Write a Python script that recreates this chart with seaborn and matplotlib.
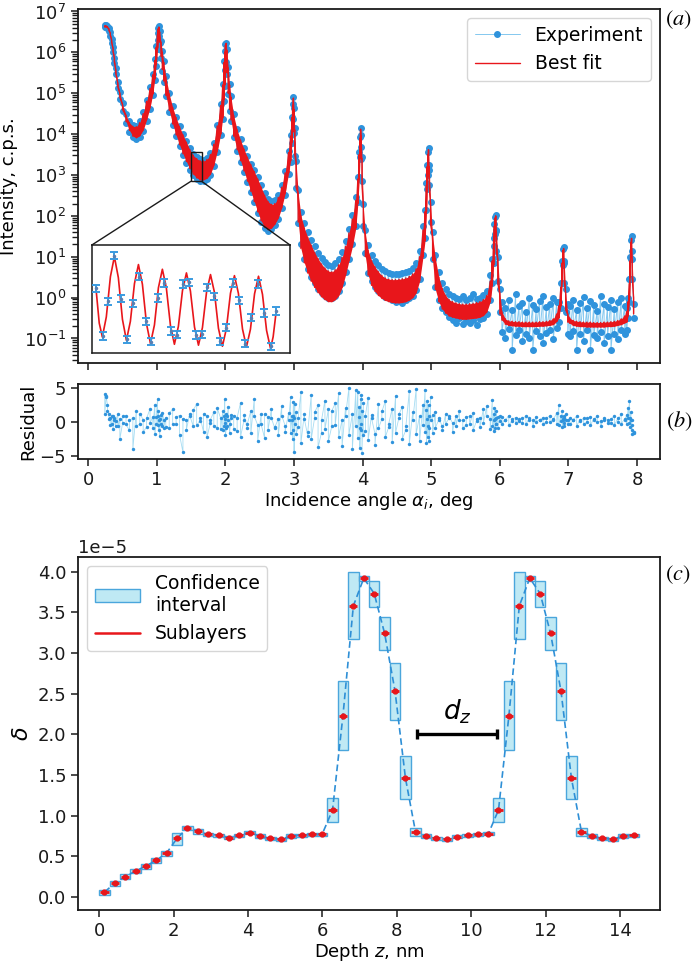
import numpy as np
import matplotlib
matplotlib.use("Agg")
import matplotlib.pyplot as plt
import seaborn as sns
from matplotlib.patches import Rectangle, ConnectionPatch, Patch
from matplotlib.lines import Line2D
from matplotlib.ticker import NullLocator

# ---------------- Panel (a): reflectivity (log10 intensity envelopes) ----------------
angle = [
    0.24, 0.26, 0.28, 0.30, 0.32, 0.34, 0.36, 0.38, 0.40, 0.43, 0.46, 0.50, 0.55, 0.60, 0.65, 0.70, 0.75, 0.80, 0.85, 0.90, 0.94,
    0.97, 0.99, 1.01, 1.02, 1.03, 1.04, 1.06, 1.08, 1.10,
    1.13, 1.18, 1.23, 1.28, 1.33, 1.38, 1.43, 1.48, 1.53, 1.58, 1.63, 1.68, 1.73, 1.78, 1.83, 1.88, 1.93,
    1.96, 1.98, 1.99, 2.00, 2.01, 2.02, 2.04, 2.06, 2.08,
    2.12, 2.17, 2.22, 2.27, 2.32, 2.37, 2.42, 2.47, 2.52, 2.57, 2.62, 2.67, 2.72, 2.77, 2.82, 2.87, 2.92,
    2.95, 2.97, 2.98, 2.99, 3.00, 3.01, 3.03, 3.06,
    3.10, 3.15, 3.20, 3.25, 3.30, 3.35, 3.40, 3.45, 3.50, 3.55, 3.60, 3.65, 3.70, 3.75, 3.80, 3.85, 3.90,
    3.93, 3.95, 3.96, 3.97, 3.98, 3.99, 4.01, 4.04,
    4.08, 4.13, 4.18, 4.23, 4.28, 4.33, 4.38, 4.43, 4.48, 4.53, 4.58, 4.63, 4.68, 4.73, 4.78, 4.83, 4.88,
    4.91, 4.93, 4.94, 4.95, 4.96, 4.97, 4.99, 5.02,
    5.06, 5.11, 5.16, 5.21, 5.26, 5.31, 5.36, 5.41, 5.46, 5.51, 5.56, 5.61, 5.66, 5.71, 5.76, 5.81, 5.86,
    5.89, 5.91, 5.92, 5.93, 5.94, 5.95, 5.97, 6.00,
    6.03, 6.08, 6.13, 6.18, 6.23, 6.28, 6.33, 6.38, 6.43, 6.48, 6.53, 6.58, 6.63, 6.68, 6.73, 6.78, 6.83,
    6.86, 6.89, 6.91, 6.92, 6.93, 6.94, 6.96, 6.99,
    7.02, 7.07, 7.12, 7.17, 7.22, 7.27, 7.32, 7.37, 7.42, 7.47, 7.52, 7.57, 7.62, 7.67, 7.72, 7.77, 7.82,
    7.85, 7.87, 7.89, 7.90, 7.91, 7.92, 7.93, 7.95,
]
fit_hi = [
    6.65, 6.65, 6.63, 6.58, 6.47, 6.30, 6.10, 5.85, 5.58, 5.25, 5.00, 4.72, 4.46, 4.28, 4.19, 4.18, 4.28, 4.50, 4.80, 5.12, 5.45,
    5.80, 6.12, 6.45, 6.58, 6.62, 6.50, 6.25, 6.00, 5.75,
    5.40, 4.98, 4.65, 4.40, 4.18, 3.98, 3.80, 3.62, 3.48, 3.40, 3.35, 3.34, 3.38, 3.50, 3.75, 4.20, 4.70,
    5.20, 5.75, 6.00, 6.18, 6.22, 6.05, 5.62, 5.20, 4.90,
    4.45, 4.10, 3.85, 3.63, 3.43, 3.25, 3.08, 2.90, 2.70, 2.50, 2.35, 2.28, 2.30, 2.45, 2.70, 3.05, 3.55,
    3.95, 4.40, 4.70, 4.88, 4.60, 4.10, 3.30, 2.55,
    2.00, 1.70, 1.47, 1.28, 1.10, 0.95, 0.82, 0.72, 0.65, 0.63, 0.68, 0.80, 0.98, 1.25, 1.58, 1.92, 2.38,
    2.90, 3.50, 3.90, 4.12, 3.95, 3.40, 2.20, 1.55,
    1.15, 0.90, 0.75, 0.63, 0.54, 0.48, 0.45, 0.44, 0.44, 0.45, 0.46, 0.48, 0.52, 0.58, 0.70, 1.00, 1.65,
    2.10, 2.75, 3.20, 3.50, 3.62, 3.20, 2.30, 1.50,
    0.95, 0.50, 0.22, 0.05, -0.05, -0.10, -0.13, -0.15, -0.16, -0.16, -0.15, -0.14, -0.12, -0.10, -0.05, 0.05, 0.40,
    0.90, 1.40, 1.75, 1.95, 2.00, 1.60, 0.95, 0.10,
    -0.35, -0.52, -0.57, -0.58, -0.59, -0.59, -0.60, -0.60, -0.60, -0.60, -0.60, -0.59, -0.59, -0.58, -0.56, -0.52, -0.40,
    -0.20, 0.25, 0.85, 1.15, 1.20, 0.80, 0.10, -0.40,
    -0.50, -0.56, -0.58, -0.59, -0.60, -0.60, -0.60, -0.61, -0.61, -0.61, -0.60, -0.60, -0.59, -0.58, -0.56, -0.52, -0.45,
    -0.35, -0.10, 0.35, 0.90, 1.35, 1.45, 0.90, 0.00,
]
fit_lo = [
    6.62, 6.62, 6.60, 6.54, 6.42, 6.24, 6.03, 5.77, 5.49, 5.16, 4.90, 4.60, 4.31, 4.09, 3.95, 3.91, 3.96, 4.10, 4.35, 4.65, 4.98,
    5.35, 5.70, 6.10, 6.32, 6.42, 6.25, 5.90, 5.58, 5.30,
    4.95, 4.58, 4.25, 3.98, 3.74, 3.52, 3.33, 3.16, 3.02, 2.93, 2.88, 2.88, 2.92, 3.02, 3.24, 3.58, 4.00,
    4.40, 4.85, 5.20, 5.60, 5.80, 5.50, 5.00, 4.60, 4.35,
    3.95, 3.62, 3.35, 3.10, 2.85, 2.60, 2.35, 2.10, 1.88, 1.72, 1.66, 1.70, 1.80, 1.95, 2.20, 2.55, 3.05,
    3.35, 3.80, 4.10, 4.40, 4.05, 3.50, 2.70, 1.85,
    1.20, 0.85, 0.60, 0.40, 0.25, 0.12, 0.02, -0.05, -0.10, -0.10, -0.05, 0.05, 0.25, 0.55, 0.90, 1.25, 1.70,
    2.30, 2.90, 3.40, 3.70, 3.40, 2.80, 1.70, 1.00,
    0.55, 0.30, 0.15, 0.05, -0.02, -0.07, -0.10, -0.12, -0.13, -0.13, -0.12, -0.10, -0.06, 0.00, 0.12, 0.40, 1.00,
    1.40, 2.10, 2.60, 2.95, 3.10, 2.70, 1.80, 0.90,
    0.20, -0.10, -0.28, -0.38, -0.45, -0.48, -0.50, -0.52, -0.53, -0.53, -0.52, -0.51, -0.50, -0.48, -0.44, -0.35, -0.10,
    0.30, 0.80, 1.20, 1.50, 1.60, 1.10, 0.35, -0.40,
    -0.55, -0.65, -0.68, -0.69, -0.70, -0.70, -0.71, -0.71, -0.71, -0.71, -0.71, -0.70, -0.70, -0.69, -0.68, -0.66, -0.58,
    -0.50, -0.20, 0.40, 0.85, 0.95, 0.40, -0.30, -0.60,
    -0.63, -0.68, -0.70, -0.71, -0.71, -0.72, -0.72, -0.72, -0.72, -0.72, -0.72, -0.71, -0.71, -0.70, -0.68, -0.66, -0.62,
    -0.60, -0.45, -0.05, 0.50, 1.00, 1.20, 0.50, -0.40,
]
exp_hi = [
    6.66, 6.66, 6.64, 6.60, 6.49, 6.32, 6.12, 5.87, 5.61, 5.28, 5.03, 4.75, 4.49, 4.31, 4.22, 4.21, 4.31, 4.53, 4.83, 5.15, 5.48,
    5.83, 6.15, 6.47, 6.60, 6.64, 6.52, 6.28, 6.03, 5.78,
    5.43, 5.01, 4.68, 4.43, 4.21, 4.01, 3.83, 3.65, 3.51, 3.43, 3.38, 3.37, 3.41, 3.53, 3.78, 4.23, 4.73,
    5.23, 5.78, 6.03, 6.20, 6.24, 6.08, 5.65, 5.23, 4.93,
    4.48, 4.13, 3.88, 3.66, 3.46, 3.28, 3.11, 2.94, 2.75, 2.56, 2.42, 2.36, 2.38, 2.52, 2.75, 3.09, 3.58,
    3.98, 4.43, 4.73, 4.90, 4.63, 4.14, 3.35, 2.62,
    2.10, 1.82, 1.60, 1.42, 1.25, 1.10, 0.98, 0.88, 0.80, 0.78, 0.84, 0.95, 1.12, 1.38, 1.68, 2.02, 2.45,
    2.95, 3.55, 3.93, 4.14, 3.98, 3.45, 2.28, 1.65,
    1.28, 1.05, 0.90, 0.80, 0.70, 0.64, 0.60, 0.58, 0.57, 0.58, 0.60, 0.62, 0.66, 0.72, 0.85, 1.15, 1.75,
    2.15, 2.80, 3.25, 3.55, 3.65, 3.25, 2.35, 1.60,
    1.05, 0.62, 0.35, 0.20, 0.10, 0.03, 0.00, -0.03, 0.05, -0.05, -0.02, 0.08, -0.04, 0.00, 0.06, 0.16, 0.55,
    0.95, 1.45, 1.80, 1.98, 2.02, 1.65, 1.00, 0.20,
    -0.10, -0.25, -0.05, -0.30, 0.08, -0.20, -0.12, -0.35, 0.00, -0.18, -0.28, -0.08, 0.05, -0.22, -0.15, -0.02, -0.10,
    -0.10, 0.35, 0.90, 1.20, 1.24, 0.85, 0.20, -0.15,
    -0.20, -0.05, -0.30, -0.12, 0.02, -0.25, -0.08, -0.18, -0.32, 0.05, -0.15, -0.22, -0.05, -0.28, -0.10, -0.02, -0.20,
    -0.25, 0.00, 0.45, 1.00, 1.40, 1.50, 0.95, -0.15,
]
exp_lo = [
    6.61, 6.61, 6.59, 6.52, 6.40, 6.22, 6.01, 5.75, 5.47, 5.13, 4.87, 4.57, 4.28, 4.06, 3.92, 3.88, 3.93, 4.07, 4.32, 4.62, 4.95,
    5.32, 5.67, 6.07, 6.29, 6.39, 6.22, 5.87, 5.55, 5.27,
    4.92, 4.55, 4.22, 3.95, 3.71, 3.49, 3.30, 3.13, 2.99, 2.90, 2.85, 2.85, 2.89, 2.99, 3.21, 3.55, 3.97,
    4.37, 4.82, 5.17, 5.57, 5.77, 5.47, 4.97, 4.57, 4.32,
    3.92, 3.59, 3.32, 3.07, 2.82, 2.58, 2.33, 2.08, 1.86, 1.70, 1.64, 1.68, 1.78, 1.93, 2.18, 2.52, 3.02,
    3.32, 3.77, 4.07, 4.37, 4.02, 3.47, 2.67, 1.82,
    1.30, 0.95, 0.70, 0.50, 0.35, 0.22, 0.12, 0.05, 0.00, 0.00, 0.05, 0.15, 0.35, 0.62, 0.95, 1.30, 1.75,
    2.35, 2.95, 3.45, 3.68, 3.38, 2.85, 1.75, 1.10,
    0.60, 0.40, 0.25, 0.15, 0.08, 0.02, -0.02, -0.05, -0.10, -0.08, -0.12, -0.05, 0.00, 0.05, 0.18, 0.45, 1.05,
    1.45, 2.15, 2.65, 3.00, 3.12, 2.75, 1.85, 0.95,
    0.25, -0.05, -0.25, -0.35, -0.48, -0.55, -0.62, -0.50, -0.65, -0.58, -0.62, -0.55, -0.66, -0.52, -0.50, -0.40, -0.05,
    0.35, 0.85, 1.25, 1.55, 1.62, 1.15, 0.40, -0.35,
    -0.85, -1.00, -0.78, -1.28, -0.92, -0.80, -1.05, -0.88, -0.98, -1.28, -0.82, -0.95, -1.10, -0.86, -0.80, -1.02, -0.75,
    -0.60, -0.25, 0.35, 0.80, 0.90, 0.35, -0.35, -0.90,
    -0.95, -0.82, -1.28, -0.90, -1.05, -0.80, -1.28, -0.92, -1.00, -0.85, -1.12, -0.95, -1.28, -0.88, -1.02, -0.80, -0.90,
    -0.80, -0.50, -0.10, 0.45, 0.95, 1.15, 0.45, -0.50,
]

# ---------------- Panel (b): normalised residuals ----------------
res_hi = [
    4.1, 3.6, 2.4, 1.2, 0.6, -0.3, 0.8, 0.2, -0.6, 1.1, 0.4, -0.2, 0.9, -1.3, 0.5, 1.6, -0.4, 0.3, -0.8, 1.9, 0.7,
    2.5, -0.3, 3.4, 0.9, -1.2, 0.4, 1.0, -0.6, 0.3,
    0.6, -1.0, 1.8, -0.4, 0.9, -4.5, 0.3, 1.2, -0.7, 2.6, 0.1, -1.5, 0.8, -0.2, 1.4, -0.9, 0.5,
    1.5, -0.7, 3.3, 0.4, -1.0, 0.8, 2.2, -0.3, 0.6,
    0.9, -1.4, 2.8, 0.2, -0.9, 1.6, 3.4, -0.5, 1.1, -2.4, 0.7, 1.9, -1.0, 0.4, 2.3, -0.6, 1.3,
    3.6, 0.8, -1.2, 2.9, 0.5, 2.6, 1.4, -0.8,
    4.3, 1.2, -2.1, 3.9, 0.6, 2.4, -1.6, 3.1, 1.8, -0.7, 2.7, 4.2, 0.3, 2.0, 5.0, 1.1, 4.6,
    4.4, 2.1, -0.9, 3.3, 4.0, 1.5, 2.8, -1.4,
    3.5, 1.0, -1.8, 2.6, 0.4, 3.0, -0.8, 1.9, 3.8, 0.6, 2.2, -1.2, 4.5, 1.4, 4.8, 0.9, 2.5,
    4.7, 1.7, 3.1, -0.6, 2.4, 0.8, 3.6, 1.0,
    1.4, 0.3, -0.7, 1.1, 0.5, -0.2, 0.9, 1.6, 0.2, -0.5, 0.8, 1.3, 0.1, 0.6, 1.9, 2.3, 0.4,
    3.2, 1.1, 2.0, 0.4, -0.3, 1.5, 0.7, 0.9,
    0.7, 0.3, 0.9, 0.1, 0.6, 0.4, -0.2, 0.8, 0.5, 0.2, 0.7, 0.3, 0.6, -0.1, 0.9, 0.4, 1.3,
    2.4, 0.9, 1.5, 0.3, 0.8, 0.5, 1.1, 0.2,
    0.6, 0.2, 0.8, 0.3, 0.5, -0.1, 0.7, 0.4, 0.9, 0.1, 0.6, 0.3, -0.2, 0.8, 0.5, 1.2, 0.4,
    1.0, 2.0, 3.0, 0.6, 1.4, 0.3, -1.3, -1.5,
]
res_lo = [
    1.2, 3.8, 1.5, 0.4, -0.5, 0.9, -1.1, 0.6, 0.1, -0.7, -2.6, 0.8, -0.4, 0.2, -4.0, -0.6, 1.2, -1.5, 0.5, -0.2, -1.0,
    -1.8, 0.7, -0.5, 1.6, 0.2, -2.1, -0.4, 1.3, -0.9,
    -0.8, 1.3, -0.3, 0.7, -1.9, 0.4, -1.2, 0.9, 1.7, -0.5, 0.6, 1.1, -2.3, 0.3, -0.6, 2.0, -1.1,
    -1.3, 0.9, -0.2, -2.0, 1.1, -0.6, 0.3, -1.6, 1.0,
    -1.1, 0.6, -2.2, 1.0, -0.3, -1.7, 0.8, -2.8, -0.4, 1.2, -1.3, 0.5, -0.8, -2.0, 0.9, -1.5, 0.2,
    -1.6, 0.2, -2.5, 0.9, -4.4, -0.3, -1.8, 0.6,
    -3.2, 0.4, -1.5, -2.6, 1.4, -3.8, 0.2, -1.1, -2.9, 1.6, -0.5, -2.2, -3.6, 0.8, -1.9, -4.1, -0.6,
    -2.4, 0.7, -3.9, -1.2, -0.4, -4.6, -2.0, 0.9,
    -2.7, 0.5, -3.4, -1.0, 1.5, -2.3, -0.3, -3.0, -1.6, 1.1, -2.5, -0.7, -3.3, 0.2, -1.8, -2.9, -0.5,
    -1.5, -3.1, 0.4, -2.2, -0.9, -2.8, 0.3, -1.7,
    -0.9, 0.6, -1.2, -0.3, 0.8, -1.5, -0.6, 0.2, -1.0, 0.7, -0.4, -1.3, 0.4, -0.8, -0.2, 0.9, -1.1,
    -0.6, -1.4, 0.2, -0.9, 0.6, -0.3, -1.0, 0.1,
    -0.3, 0.2, -0.5, 0.4, -0.2, 0.1, 0.5, -0.4, 0.3, -0.6, 0.0, 0.2, -0.3, 0.5, -0.1, 0.3, -0.4,
    -0.5, 0.1, -0.8, 0.4, -0.2, -0.6, 0.3, -0.3,
    -0.4, 0.3, -0.6, 0.1, -0.3, 0.5, -0.5, 0.2, -0.1, -0.7, 0.3, -0.2, 0.4, -0.5, 0.0, -0.3, 0.2,
    -0.4, 0.5, -0.2, -0.8, 0.2, -0.5, -1.8, -1.7,
]

# ---------------- Inset of panel (a) ----------------
ins_exp_angle = [1.4975, 1.5029, 1.5075, 1.5123, 1.5177, 1.5223, 1.5276, 1.5325, 1.5379, 1.5422,
                 1.5475, 1.5521, 1.5578, 1.5626, 1.5674, 1.5723, 1.5779, 1.5828, 1.5873, 1.5930,
                 1.5976, 1.6024, 1.6078, 1.6126, 1.6177, 1.6226, 1.6279, 1.6328, 1.6382, 1.6425]
ins_exp_log = [3.270, 2.956, 3.185, 3.485, 3.201, 2.934, 3.172, 3.347, 3.054, 2.919,
               3.207, 3.305, 2.989, 2.965, 3.299, 3.310, 2.962, 2.967, 3.277, 3.218,
               2.921, 3.010, 3.305, 3.190, 2.906, 3.076, 3.299, 3.107, 2.888, 3.120]
ins_fit_angle = [1.4975, 1.5001, 1.5026, 1.5058, 1.5091, 1.5123, 1.5155, 1.5188, 1.5220, 1.5252,
                 1.5285, 1.5317, 1.5349, 1.5382, 1.5414, 1.5446, 1.5478, 1.5510, 1.5542, 1.5575,
                 1.5607, 1.5639, 1.5672, 1.5704, 1.5736, 1.5769, 1.5801, 1.5833, 1.5866, 1.5898,
                 1.5930, 1.5962, 1.5994, 1.6026, 1.6059, 1.6091, 1.6123, 1.6156, 1.6188, 1.6220,
                 1.6253, 1.6285, 1.6317, 1.6350, 1.6382, 1.6403, 1.6425]
ins_fit_log = [3.266, 3.040, 2.949, 3.081, 3.346, 3.478, 3.340, 3.065, 2.927, 3.052,
               3.301, 3.426, 3.296, 3.036, 2.906, 3.028, 3.273, 3.395, 3.272, 3.025,
               2.901, 3.019, 3.254, 3.371, 3.252, 3.014, 2.895, 3.011, 3.244, 3.360,
               3.242, 3.006, 2.888, 3.004, 3.237, 3.353, 3.236, 3.001, 2.884, 3.000,
               3.233, 3.349, 3.230, 2.992, 2.873, 2.950, 3.100]

# ---------------- Panel (c): delta profile (units of 1e-5) ----------------
z_nm = [0.14, 0.42, 0.70, 0.98, 1.25, 1.53, 1.81, 2.09, 2.37, 2.65, 2.93, 3.21, 3.49, 3.76,
        4.04, 4.32, 4.60, 4.88, 5.16, 5.44, 5.72, 5.99, 6.27, 6.55, 6.83, 7.11, 7.39, 7.67,
        7.95, 8.23, 8.50, 8.78, 9.06, 9.34, 9.62, 9.90, 10.18, 10.46, 10.73, 11.01, 11.29,
        11.57, 11.85, 12.13, 12.41, 12.69, 12.96, 13.24, 13.52, 13.80, 14.08, 14.36]
delta = [0.06, 0.17, 0.25, 0.32, 0.38, 0.45, 0.54, 0.72, 0.85, 0.81, 0.77, 0.76, 0.73, 0.76,
         0.79, 0.75, 0.72, 0.71, 0.75, 0.76, 0.77, 0.77, 1.07, 2.23, 3.58, 3.92, 3.73, 3.24,
         2.53, 1.46, 0.80, 0.75, 0.72, 0.71, 0.74, 0.76, 0.77, 0.78, 1.07, 2.23, 3.58,
         3.92, 3.73, 3.24, 2.53, 1.46, 0.80, 0.75, 0.72, 0.71, 0.75, 0.76]
ci_lo = [0.03, 0.13, 0.22, 0.29, 0.35, 0.42, 0.51, 0.64, 0.82, 0.78, 0.75, 0.74, 0.71, 0.74,
         0.77, 0.73, 0.70, 0.69, 0.73, 0.74, 0.75, 0.75, 0.92, 1.81, 3.17, 3.89, 3.57, 3.04,
         2.18, 1.20, 0.75, 0.73, 0.70, 0.69, 0.72, 0.74, 0.75, 0.76, 0.92, 1.81, 3.17,
         3.89, 3.57, 3.04, 2.18, 1.20, 0.75, 0.73, 0.70, 0.69, 0.73, 0.74]
ci_hi = [0.09, 0.20, 0.28, 0.35, 0.41, 0.48, 0.57, 0.79, 0.87, 0.83, 0.79, 0.78, 0.75, 0.78,
         0.81, 0.77, 0.74, 0.73, 0.77, 0.78, 0.79, 0.79, 1.22, 2.65, 3.99, 3.95, 3.89, 3.44,
         2.88, 1.73, 0.85, 0.77, 0.74, 0.73, 0.76, 0.78, 0.79, 0.80, 1.22, 2.65, 3.99,
         3.95, 3.89, 3.44, 2.88, 1.73, 0.85, 0.77, 0.74, 0.73, 0.77, 0.78]
dz_span = [8.55, 10.68]
dz_level = 2.01

# ---------------- helpers ----------------
n = min(len(angle), len(fit_hi), len(fit_lo), len(exp_hi), len(exp_lo), len(res_hi), len(res_lo))
ang = np.array(angle[:n])
fh, fl = np.array(fit_hi[:n]), np.array(fit_lo[:n])
eh, el = np.array(exp_hi[:n]), np.array(exp_lo[:n])
rh, rl = np.array(res_hi[:n]), np.array(res_lo[:n])

x2 = np.repeat(ang, 2)
exp_y = 10 ** np.column_stack([eh, el]).ravel()
fit_y = 10 ** np.column_stack([fh, fl]).ravel()
res_y = np.column_stack([rh, rl]).ravel()

BLUE = "#2f93dc"
LBLUE = "#84c8ef"
RED = "#e8161b"

sns.set_theme(style="ticks")
plt.rcParams.update({
    "font.family": ["DejaVu Sans"],
    "font.size": 13,
    "axes.labelsize": 13,
    "xtick.labelsize": 13,
    "ytick.labelsize": 13,
    "axes.edgecolor": "#1a1a1a",
    "axes.linewidth": 1.3,
    "xtick.color": "#1a1a1a",
    "ytick.color": "#1a1a1a",
    "xtick.major.size": 5,
    "ytick.major.size": 5,
    "xtick.major.width": 1.1,
    "ytick.major.width": 1.1,
    "axes.labelcolor": "black",
    "text.color": "black",
})

fig = plt.figure(figsize=(6.92, 9.65), dpi=100)
W, H = 692.0, 965.0
def box(l, r, t, b):
    return [l / W, 1 - b / H, (r - l) / W, (b - t) / H]

axA = fig.add_axes(box(78, 660, 9, 363))
axB = fig.add_axes(box(78, 660, 384, 459))
axC = fig.add_axes(box(78, 660, 557, 910))

# ---- panel (a)
axA.plot(x2, exp_y, "-", color=LBLUE, lw=0.7, marker="o", ms=4.0, mfc=BLUE, mec=BLUE,
         label="Experiment", zorder=2)
axA.fill_between(ang, 10 ** fl, 10 ** fh, color=RED, lw=0, zorder=3)
axA.plot(x2, fit_y, color=RED, lw=1.0, label="Best fit", zorder=4)
axA.set_yscale("log")
axA.set_xlim(-0.15, 8.335)
axA.set_ylim(10 ** -1.6, 10 ** 7.06)
axA.set_xticks(range(0, 9))
axA.tick_params(axis="x", labelbottom=False)
axA.set_ylabel("Intensity, c.p.s.")
leg = axA.legend(loc="upper right", fontsize=13.5, frameon=True, fancybox=True,
                 edgecolor="#cccccc", handlelength=2.4)
leg.get_frame().set_linewidth(1.0)

# inset
axins = axA.inset_axes([0.0235, 0.028, 0.341, 0.305])
axins.set_zorder(6)
axins.plot(ins_fit_angle, 10 ** np.array(ins_fit_log), color=RED, lw=1.2, zorder=2)
iy = 10 ** np.array(ins_exp_log)
axins.errorbar(ins_exp_angle, iy, yerr=0.055 * iy, fmt="o", ms=1.5, color="#5a7fb0",
               ecolor="#3a9be0", elinewidth=1.4, capsize=2.6, capthick=1.4, zorder=3)
axins.set_yscale("log")
axins.set_xlim(1.494, 1.654)
axins.set_ylim(10 ** 2.843, 10 ** 3.554)
axins.set_xticks([]); axins.set_yticks([])
axins.yaxis.set_minor_locator(NullLocator())
axins.xaxis.set_minor_locator(NullLocator())
for s in axins.spines.values():
    s.set_color("#1a1a1a"); s.set_linewidth(1.1)

x0, x1 = axins.get_xlim()
y0, y1 = axins.get_ylim()
axA.add_patch(Rectangle((x0, y0), x1 - x0, y1 - y0, fill=False, ec="#1a1a1a", lw=1.0, zorder=7))
for xa, xb in [(x0, 0), (x1, 1)]:
    con = ConnectionPatch(xyA=(xa, y0), coordsA=axA.transData, xyB=(xb, 1), coordsB=axins.transAxes,
                          color="#1a1a1a", lw=1.0)
    fig.add_artist(con)

# ---- panel (b)
sns.lineplot(x=x2, y=res_y, ax=axB, estimator=None, sort=False, color="#a6dcf2", lw=0.6)
sns.scatterplot(x=x2, y=res_y, ax=axB, s=6, color=BLUE, linewidth=0, zorder=3)
axB.set_xlim(-0.15, 8.335)
axB.set_ylim(-5.5, 5.55)
axB.set_yticks([-5, 0, 5])
axB.set_xticks(range(0, 9))
axB.set_ylabel("Residual", labelpad=2)
axB.set_xlabel(r"Incidence angle $\alpha_i$, deg", labelpad=1)

# ---- panel (c)
zc = np.array(z_nm)
dc = np.array(delta) * 1e-5
lo_c = np.array(ci_lo) * 1e-5
hi_c = np.array(ci_hi) * 1e-5
axC.bar(zc, hi_c - lo_c, bottom=lo_c, width=0.28, color="#bfe9f4", edgecolor="#4aa6dc",
        linewidth=1.0, zorder=1)
sns.lineplot(x=zc, y=dc, ax=axC, estimator=None, sort=False, color="#2e8fd6", lw=1.2,
             dashes=False, zorder=2).lines[-1].set_dashes([4, 2.2])
axC.errorbar(zc, dc, xerr=0.11, fmt="o", ms=3.5, color=RED, elinewidth=2.0, capsize=0, zorder=4)
axC.plot(dz_span, [dz_level * 1e-5] * 2, color="black", lw=2.4, solid_capstyle="butt", zorder=5)
axC.plot(dz_span, [dz_level * 1e-5] * 2, ls="none", marker="|", ms=7, mew=2.4, color="black", zorder=5)
axC.text(np.mean(dz_span), (dz_level + 0.27) * 1e-5, r"$d_z$", fontsize=19, ha="center", va="center")
axC.set_xlim(-0.57, 15.07)
axC.set_ylim(-0.16e-5, 4.18e-5)
axC.set_xticks(range(0, 15, 2))
axC.set_xlabel(r"Depth $z$, nm", labelpad=1)
axC.set_ylabel(r"$\delta$", fontsize=16)
handles = [Patch(facecolor="#bfe9f4", edgecolor="#4aa6dc", lw=1.0),
           Line2D([0], [0], color=RED, lw=1.8)]
legc = axC.legend(handles, ["Confidence\ninterval", "Sublayers"], loc="upper left", fontsize=13.5,
                  frameon=True, fancybox=True, edgecolor="#cccccc", handlelength=2.4)
legc.get_frame().set_linewidth(1.0)

# panel tags
for txt, (px, py) in {"(a)": (678, 20), "(b)": (679, 421), "(c)": (678, 575)}.items():
    fig.text(px / W, 1 - py / H, "$" + txt + "$", fontsize=16, ha="center", va="center",
             math_fontfamily="stix")

fig.savefig("out.png", dpi=100)
